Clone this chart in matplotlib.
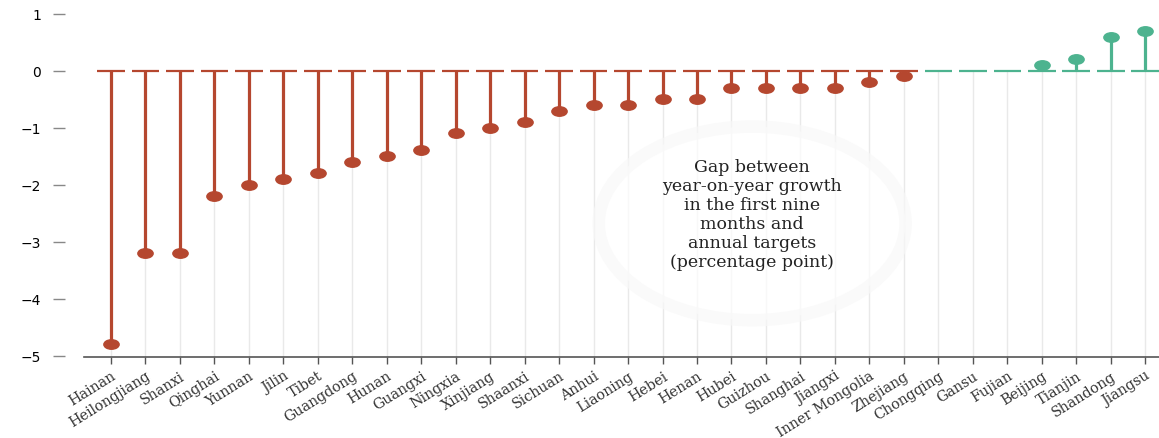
import matplotlib
matplotlib.use("Agg")
import matplotlib.pyplot as plt
from matplotlib.patches import Ellipse
from matplotlib.path import Path
import numpy as np

PROVINCES = ["Hainan", "Heilongjiang", "Shanxi", "Qinghai", "Yunnan", "Jilin",
             "Tibet", "Guangdong", "Hunan", "Guangxi", "Ningxia", "Xinjiang",
             "Shaanxi", "Sichuan", "Anhui", "Liaoning", "Hebei", "Henan",
             "Hubei", "Guizhou", "Shanghai", "Jiangxi", "Inner Mongolia",
             "Zhejiang", "Chongqing", "Gansu", "Fujian", "Beijing", "Tianjin",
             "Shandong", "Jiangsu"]
GAP = [-4.8, -3.2, -3.2, -2.2, -2.0, -1.9, -1.8, -1.6, -1.5, -1.4, -1.1, -1.0,
       -0.9, -0.7, -0.6, -0.6, -0.5, -0.5, -0.3, -0.3, -0.3, -0.3, -0.2, -0.1,
       0.0, 0.0, 0.0, 0.1, 0.2, 0.6, 0.7]
Y_TICKS = [1, 0, -1, -2, -3, -4, -5]
NOTE = ("Gap between\nyear-on-year growth\nin the first nine\n"
        "months and\nannual targets\n(percentage point)")

C_NEG  = "#b5472f"
C_POS  = "#4db38f"
C_GRID = "#e9e9e9"
C_AXIS = "#555555"
FONT   = "DejaVu Serif"

# flattened dot marker
circ = Path.unit_circle()
dot = Path(circ.vertices * np.array([1.0, 0.62]), circ.codes)

fig = plt.figure(figsize=(11.59, 4.39), dpi=100)
ax = fig.add_axes([0.0725, 0.184, 0.9275, 0.816])

x = np.arange(len(PROVINCES))
vals = np.array(GAP)
colors = [C_NEG if v < 0 else C_POS for v in vals]

ax.vlines(x, -5.03, 0, color=C_GRID, lw=1.0, zorder=0)

ax.add_patch(Ellipse((18.6, -2.68), 8.9, 3.4, facecolor="white", alpha=0.7,
                     edgecolor="#f8f8f8", lw=9, zorder=1))

ax.hlines(np.zeros(len(x)), x - 0.4, x + 0.4, colors=colors, lw=1.6, zorder=2)
ax.vlines(x, 0, vals, colors=colors, lw=2.3, zorder=3)
for xi, v, c in zip(x, vals, colors):
    if v != 0:
        ax.plot(xi, v, marker=dot, ms=11, color=c, mec=c, zorder=4)

ax.text(18.6, -2.52, NOTE, ha="center", va="center", fontsize=12.5,
        family=FONT, color="#222222", linespacing=1.16, zorder=5)

ax.set_xlim(-0.78, 30.4)
ax.set_ylim(-5.03, 1.26)
ax.set_xticks(x)
ax.set_xticklabels(PROVINCES, rotation=32, ha="right", rotation_mode="anchor",
                   family=FONT, fontsize=10.3, color="#333333")
ax.set_yticks(Y_TICKS)
ax.set_yticklabels([str(t).replace("-", "\u2212") for t in Y_TICKS],
                   family=FONT, fontsize=12, color="#333333")

for s in ["top", "right"]:
    ax.spines[s].set_visible(False)
ax.spines["left"].set_position(("outward", 14))
ax.spines["left"].set_color("none")
ax.spines["bottom"].set_color(C_AXIS)
ax.spines["bottom"].set_linewidth(1.2)
ax.tick_params(axis="y", length=9, width=1, color="#888888", pad=8)
ax.tick_params(axis="x", length=5, width=1, color=C_AXIS, pad=3)

fig.savefig("out.png", dpi=100)
